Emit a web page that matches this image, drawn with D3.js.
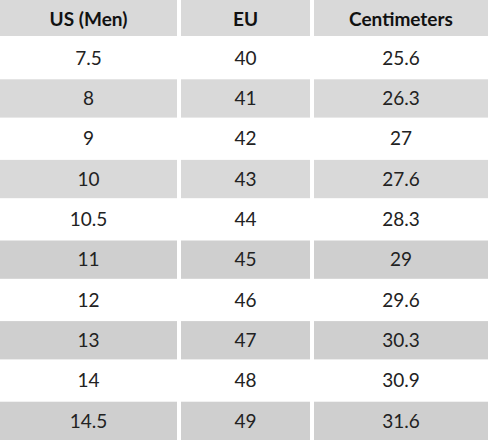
<!DOCTYPE html>
<html><head><meta charset="utf-8">
<script src="https://cdn.jsdelivr.net/npm/d3@7"></script>
<style>body{margin:0;background:#fff}</style>
</head><body>
<svg id="chart" width="488" height="441"></svg>
<script>
const headers = ["US (Men)", "EU", "Centimeters"]
const usSizes = ["7.5", "8", "9", "10", "10.5", "11", "12", "13", "14", "14.5"]
const euSizes = ["40", "41", "42", "43", "44", "45", "46", "47", "48", "49"]
const centimeters = ["25.6", "26.3", "27", "27.6", "28.3", "29", "29.6", "30.3", "30.9", "31.6"]
const rowShade = ["white", "light", "white", "light", "white", "dark", "white", "dark", "white", "dark"]

const svg = d3.select("#chart")
const colEdges = [0, 179, 312, 488]
const gap = 2
const headerH = 38
const rows = usSizes.map((u, i) => [u, euSizes[i], centimeters[i]])
const y = d3.scaleBand().domain(d3.range(rows.length)).range([headerH, 441])
const fill = {white: "#ffffff", light: "#d9d9d9", dark: "#cfcfcf"}
const font = "Lato, 'Open Sans', sans-serif"

// header
headers.forEach((h, c) => {
  const x0 = colEdges[c] + (c > 0 ? gap : 0), x1 = colEdges[c + 1] - (c < 2 ? gap : 0)
  svg.append("rect").attr("x", x0).attr("y", 0).attr("width", x1 - x0).attr("height", headerH - 2).attr("fill", "#d9d9d9")
  svg.append("text").attr("x", (x0 + x1) / 2).attr("y", headerH / 2).attr("dy", "0.35em")
    .attr("text-anchor", "middle").attr("font-family", font).attr("font-weight", "bold")
    .attr("font-size", 19).attr("fill", "#111").text(h)
})

rows.forEach((r, i) => {
  r.forEach((v, c) => {
    const x0 = colEdges[c] + (c > 0 ? gap : 0), x1 = colEdges[c + 1] - (c < 2 ? gap : 0)
    svg.append("rect").attr("x", x0).attr("y", y(i) + 1).attr("width", x1 - x0)
      .attr("height", y.bandwidth() - 2).attr("fill", fill[rowShade[i]])
    svg.append("text").attr("x", (x0 + x1) / 2).attr("y", y(i) + y.bandwidth() / 2).attr("dy", "0.35em")
      .attr("text-anchor", "middle").attr("font-family", font)
      .attr("font-size", 19).attr("fill", "#222").text(v)
  })
})
</script>
</body></html>
